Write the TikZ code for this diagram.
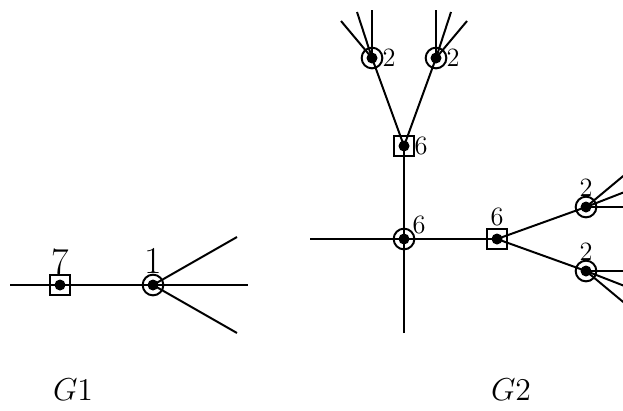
\documentclass[tikz,border=0pt]{standalone}
\usetikzlibrary{positioning}
\begin{document}
\begin{tikzpicture}[x=0.4545pt,y=-0.4545pt,
  edge/.style={line width=0.9pt},
  dotted vertex/.style={inner sep=0pt,line width=0.9pt,
    path picture={\fill (path picture bounding box.center) circle (2.5pt);}},
  sqv/.style={dotted vertex,draw,rectangle,minimum size=9.2pt},
  cv/.style={dotted vertex,draw,circle,minimum size=9.4pt},
  lab/.style={inner sep=0pt,font=\large},
  biglab/.style={inner sep=0pt,font=\LARGE},
  caption/.style={inner sep=0pt,font=\Large}]
\useasboundingbox (0,0) rectangle (623,410);
\clip (0,0) rectangle (623,410);

% ---- G1 ----
\node[sqv] (s7) at (60,285) {};
\node[cv]  (c1) at (153,285) {};
\node[biglab] (l7) at (60,262) {7};
\node[biglab] (l1) at (153,261) {1};
\coordinate (g1l) at (10,285);
\coordinate (g1a) at (237,237);
\coordinate (g1b) at (248,285);
\coordinate (g1c) at (237,333);
\draw[edge] (g1l) -- (s7.center) -- (c1.center);
\draw[edge] (c1.center) -- (g1a);
\draw[edge] (c1.center) -- (g1b);
\draw[edge] (c1.center) -- (g1c);

% ---- G2 ----
\node[cv]  (c6) at (404,239) {};
\node[sqv] (st) at (404,146) {};
\node[sqv] (sr) at (497,239) {};
\node[cv]  (ta) at (372,58) {};
\node[cv]  (tb) at (436,58) {};
\node[cv]  (ra) at (586,207) {};
\node[cv]  (rb) at (586,271) {};

\node[lab] (lc6) at (419,225) {6};
\node[lab] (lst) at (421,146) {6};
\node[lab] (lsr) at (497,217) {6};
\node[lab] (lta) at (389,58) {2};
\node[lab] (ltb) at (453,58) {2};
\node[lab] (lra) at (586,188) {2};
\node[lab] (lrb) at (586,252) {2};

\coordinate (g2l) at (310,239);
\coordinate (g2d) at (404,333);
\coordinate (ta1) at (372,10);
\coordinate (ta2) at (357,12);
\coordinate (ta3) at (341,21);
\coordinate (tb1) at (436,10);
\coordinate (tb2) at (451,12);
\coordinate (tb3) at (467,21);
\coordinate (ra1) at (640,162);
\coordinate (ra2) at (640,186);
\coordinate (ra3) at (640,207);
\coordinate (rb1) at (640,271);
\coordinate (rb2) at (640,292);
\coordinate (rb3) at (640,316);

\draw[edge] (g2l) -- (c6.center) -- (sr.center);
\draw[edge] (g2d) -- (c6.center) -- (st.center);
\draw[edge] (st.center) -- (ta.center);
\draw[edge] (st.center) -- (tb.center);
\draw[edge] (sr.center) -- (ra.center);
\draw[edge] (sr.center) -- (rb.center);
\foreach \e in {ta1,ta2,ta3} \draw[edge] (ta.center) -- (\e);
\foreach \e in {tb1,tb2,tb3} \draw[edge] (tb.center) -- (\e);
\foreach \e in {ra1,ra2,ra3} \draw[edge] (ra.center) -- (\e);
\foreach \e in {rb1,rb2,rb3} \draw[edge] (rb.center) -- (\e);

% ---- captions ----
\node[caption] (cap1) at (73,390) {$G1$};
\node[caption] (cap2) at (511,390) {$G2$};
\end{tikzpicture}
\end{document}
